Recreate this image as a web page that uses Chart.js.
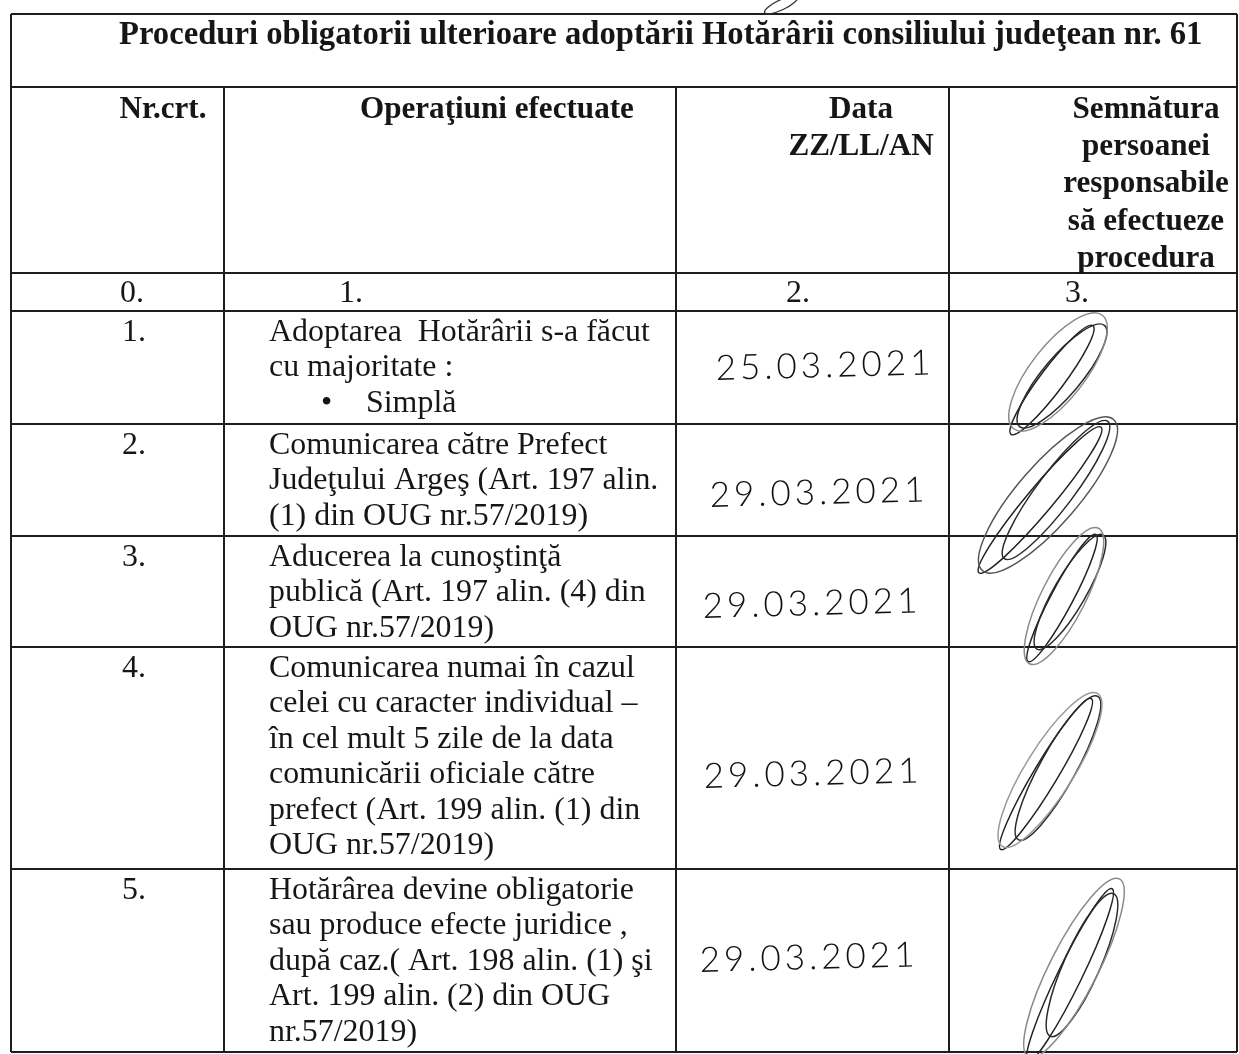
<!DOCTYPE html>
<html>
<head>
<meta charset="utf-8">
<script src="https://cdn.jsdelivr.net/npm/chart.js@4.4.1/dist/chart.umd.min.js"></script>
<style>
  html, body { margin: 0; padding: 0; background: #ffffff; }
  #wrap { width: 1239px; height: 1054px; position: relative; }
</style>
</head>
<body>
<div id="wrap"><canvas id="c"></canvas></div>
<script>
// ---------------- data ----------------
const titleText = 'Proceduri obligatorii ulterioare adoptării Hotărârii consiliului judeţean nr. 61';
const headerCells = [
  ['Nr.crt.'],
  ['Operaţiuni efectuate'],
  ['Data', 'ZZ/LL/AN'],
  ['Semnătura', 'persoanei', 'responsabile', 'să efectueze', 'procedura']
];
const columnNumbers = ['0.', '1.', '2.', '3.'];
const rowNumbers = ['1.', '2.', '3.', '4.', '5.'];
const operations = [
  ['Adoptarea  Hotărârii s-a făcut', 'cu majoritate :', '• Simplă'],
  ['Comunicarea către Prefect', 'Judeţului Argeş (Art. 197 alin.', '(1) din OUG nr.57/2019)'],
  ['Aducerea la cunoştinţă', 'publică (Art. 197 alin. (4) din', 'OUG nr.57/2019)'],
  ['Comunicarea numai în cazul', 'celei cu caracter individual –', 'în cel mult 5 zile de la data', 'comunicării oficiale către', 'prefect (Art. 199 alin. (1) din', 'OUG nr.57/2019)'],
  ['Hotărârea devine obligatorie', 'sau produce efecte juridice ,', 'după caz.( Art. 198 alin. (1) şi', 'Art. 199 alin. (2) din OUG', 'nr.57/2019)']
];
const dates = ['25.03.2021', '29.03.2021', '29.03.2021', '29.03.2021', '29.03.2021'];

// ---------------- layout (page units, mapped through the chart scales) ----------------
const colEdges = [11, 224, 676, 949, 1237];
const rowEdges = [14, 87, 273, 311, 424, 536, 647, 869, 1052];
const firstBodyEdge = 3; // index of the edge above row "1."
const pageW = 1239, pageH = 1054;

// horizontal rules: every row edge across the full width
const ruleSets = [];
rowEdges.forEach(yv => ruleSets.push([{x: colEdges[0], y: yv}, {x: colEdges[colEdges.length - 1], y: yv}]));
// outer verticals from the top, inner verticals from below the title row
colEdges.forEach((xv, i) => {
  const top = (i === 0 || i === colEdges.length - 1) ? rowEdges[0] : rowEdges[1];
  ruleSets.push([{x: xv, y: top}, {x: xv, y: rowEdges[rowEdges.length - 1]}]);
});

const datasets = ruleSets.map((pts, i) => ({
  label: 'rule' + i,
  data: pts,
  showLine: true,
  borderColor: '#1e1e1e',
  borderWidth: 2,
  pointRadius: 0,
  pointHoverRadius: 0,
  clip: false
}));

// signature loops: [centre x, centre y, half length, half width, angle deg, ink]
const signatureLoops = [
  [[1052, 380, 68, 12, -53, '#222'], [1062, 376, 66, 19, -50, '#2a2a2a'], [1058, 372, 72, 27, -52, '#8a8a8a']],
  [[1040, 500, 95, 13, -50, '#222'], [1056, 490, 86, 18, -53, '#2a2a2a'], [1048, 495, 100, 30, -49, '#555']],
  [[1062, 598, 72, 11, -62, '#222'], [1070, 592, 66, 16, -60, '#2a2a2a'], [1064, 596, 76, 22, -63, '#8a8a8a']],
  [[1046, 774, 88, 12, -59, '#222'], [1058, 768, 82, 18, -61, '#2a2a2a'], [1050, 770, 90, 24, -58, '#999']],
  [[1070, 975, 96, 12, -64, '#222'], [1082, 965, 78, 18, -66, '#2a2a2a'], [1074, 968, 100, 24, -63, '#8a8a8a']]
];

const tablePlugin = {
  id: 'tableText',
  afterDatasetsDraw(chart) {
    const {ctx, scales} = chart;
    const X = v => scales.x.getPixelForValue(v);
    const Y = v => scales.y.getPixelForValue(v);
    const serif = '"Liberation Serif", "Times New Roman", serif';
    const fit = (text, weight, target) => {
      ctx.font = weight + ' 30px ' + serif;
      return 30 * target / ctx.measureText(text).width;
    };
    const titleSize = fit(titleText, 'bold', 1084);
    const headSize = fit('Semnătura', 'bold', 147);
    const bodySize = fit('Comunicarea numai în cazul', 'normal', 366);

    ctx.save();
    ctx.fillStyle = '#161616';
    ctx.textBaseline = 'alphabetic';

    // title
    ctx.font = 'bold ' + titleSize + 'px ' + serif;
    ctx.textAlign = 'left';
    ctx.fillText(titleText, X(119), Y(44));

    // header
    ctx.font = 'bold ' + headSize + 'px ' + serif;
    const headAnchors = [[163, 'center'], [360, 'left'], [861, 'center'], [1146, 'center']];
    headerCells.forEach((lines, c) => {
      ctx.textAlign = headAnchors[c][1];
      lines.forEach((t, k) => ctx.fillText(t, X(headAnchors[c][0]), Y(118 + 37.2 * k)));
    });

    // column numbering row
    ctx.font = bodySize + 'px ' + serif;
    ctx.textAlign = 'left';
    const numX = [120, 339, 786, 1065];
    columnNumbers.forEach((t, c) => ctx.fillText(t, X(numX[c]), Y(rowEdges[firstBodyEdge] - 9)));

    // body rows
    operations.forEach((lines, r) => {
      const top = rowEdges[firstBodyEdge + r];
      ctx.fillText(rowNumbers[r], X(122), Y(top + 30));
      lines.forEach((t, k) => {
        const yy = Y(top + 30 + 35.4 * k);
        if (t.startsWith('• ')) {
          ctx.fillText('•', X(321), yy);
          ctx.fillText(t.slice(2), X(366), yy);
        } else {
          ctx.fillText(t, X(269), yy);
        }
      });
    });

    // handwritten dates
    const dateX = [716, 710, 703, 704, 700];
    const dateY = [380, 507, 618, 788, 972];
    ctx.font = '300 35px Lato, "DejaVu Sans", sans-serif';
    try { ctx.letterSpacing = '4px'; } catch (e) {}
    ctx.fillStyle = '#111111';
    dates.forEach((d, r) => {
      ctx.save();
      ctx.translate(X(dateX[r]), Y(dateY[r]));
      ctx.rotate(-1.5 * Math.PI / 180);
      ctx.fillText(d, 0, 0);
      ctx.restore();
    });
    try { ctx.letterSpacing = '0px'; } catch (e) {}

    // signatures
    signatureLoops.forEach(loops => {
      loops.forEach(([cx, cy, a, b, ang, ink]) => {
        ctx.beginPath();
        ctx.strokeStyle = ink;
        ctx.lineWidth = 1.5;
        ctx.ellipse(X(cx), Y(cy), X(cx + a) - X(cx), X(cx + b) - X(cx), ang * Math.PI / 180, 0, Math.PI * 2);
        ctx.stroke();
      });
    });
    // small mark above the title
    ctx.beginPath();
    ctx.strokeStyle = '#333';
    ctx.lineWidth = 1.3;
    ctx.ellipse(X(781), Y(5), 18, 5, -25 * Math.PI / 180, 0, Math.PI * 2);
    ctx.stroke();
    ctx.restore();
  }
};

new Chart(document.getElementById('c'), {
  type: 'scatter',
  data: {datasets},
  options: {
    responsive: true,
    maintainAspectRatio: false,
    animation: false,
    devicePixelRatio: 1,
    events: [],
    layout: {padding: 0},
    plugins: {legend: {display: false}, tooltip: {enabled: false}, title: {display: false}},
    scales: {
      x: {type: 'linear', min: 0, max: pageW, display: false},
      y: {type: 'linear', min: 0, max: pageH, reverse: true, display: false}
    }
  },
  plugins: [tablePlugin]
});
</script>
</body>
</html>
